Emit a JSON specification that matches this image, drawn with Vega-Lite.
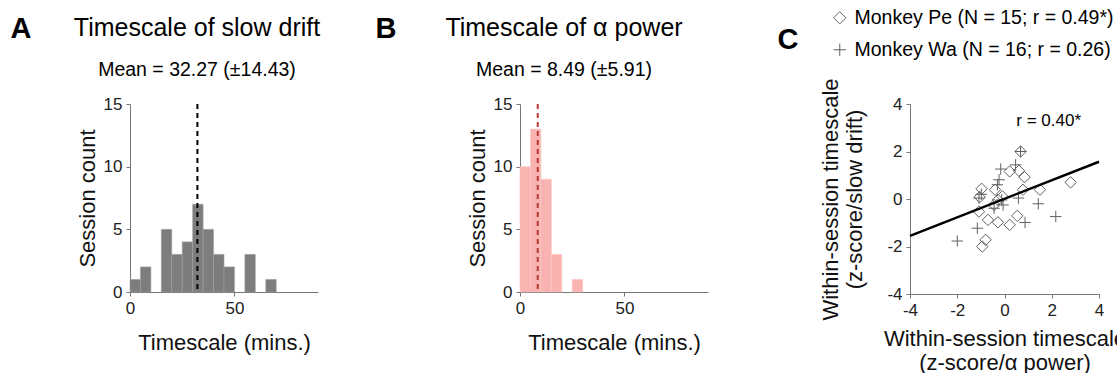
{
  "$schema": "https://vega.github.io/schema/vega-lite/v6.json",
  "padding": {"left": 10, "top": 8, "right": 0, "bottom": 0},
  "background": "white",
  "datasets": {
    "histA": [
      {"start": 0, "end": 5, "count": 1},
      {"start": 5, "end": 10, "count": 2},
      {"start": 15, "end": 20, "count": 5},
      {"start": 20, "end": 25, "count": 3},
      {"start": 25, "end": 30, "count": 4},
      {"start": 30, "end": 35, "count": 7},
      {"start": 35, "end": 40, "count": 5},
      {"start": 40, "end": 45, "count": 3},
      {"start": 45, "end": 50, "count": 2},
      {"start": 55, "end": 60, "count": 3},
      {"start": 65, "end": 70, "count": 1}
    ],
    "histB": [
      {"start": 0, "end": 5, "count": 10},
      {"start": 5, "end": 10, "count": 13},
      {"start": 10, "end": 15, "count": 9},
      {"start": 15, "end": 20, "count": 3},
      {"start": 25, "end": 30, "count": 1}
    ],
    "meanA": [{"mean": 32.27}],
    "meanB": [{"mean": 8.49}],
    "scatter": [
      {"monkey": "Pe", "x": 0.68, "y": 2.0},
      {"monkey": "Pe", "x": 0.22, "y": 1.16},
      {"monkey": "Pe", "x": 0.61, "y": 1.19},
      {"monkey": "Pe", "x": 0.85, "y": 0.92},
      {"monkey": "Pe", "x": 0.78, "y": 0.39},
      {"monkey": "Pe", "x": 1.5, "y": 0.39},
      {"monkey": "Pe", "x": 2.8, "y": 0.7},
      {"monkey": "Pe", "x": -0.97, "y": 0.43},
      {"monkey": "Pe", "x": -1.05, "y": 0.08},
      {"monkey": "Pe", "x": -1.08, "y": -0.53},
      {"monkey": "Pe", "x": -0.7, "y": -0.88},
      {"monkey": "Pe", "x": -0.4, "y": 0.39},
      {"monkey": "Pe", "x": -0.28, "y": -0.04},
      {"monkey": "Pe", "x": -0.09, "y": 0.11},
      {"monkey": "Pe", "x": -0.28, "y": -0.98},
      {"monkey": "Pe", "x": 0.22, "y": -1.09},
      {"monkey": "Pe", "x": 0.54, "y": -0.71},
      {"monkey": "Pe", "x": -0.8, "y": -1.72},
      {"monkey": "Pe", "x": -0.94, "y": -2.0},
      {"monkey": "Pe", "x": -0.44, "y": -0.25},
      {"monkey": "Wa", "x": 0.68, "y": 2.0},
      {"monkey": "Wa", "x": -0.16, "y": 1.26},
      {"monkey": "Wa", "x": 0.47, "y": 1.44},
      {"monkey": "Wa", "x": -0.23, "y": 0.81},
      {"monkey": "Wa", "x": -1.08, "y": 0.04},
      {"monkey": "Wa", "x": -1.15, "y": -1.23},
      {"monkey": "Wa", "x": -2.0, "y": -1.77},
      {"monkey": "Wa", "x": -0.06, "y": -0.25},
      {"monkey": "Wa", "x": 0.59, "y": 0.04},
      {"monkey": "Wa", "x": 1.43, "y": -0.2},
      {"monkey": "Wa", "x": 2.17, "y": -0.74},
      {"monkey": "Wa", "x": 0.87, "y": -0.99},
      {"monkey": "Wa", "x": -0.3, "y": 0.6},
      {"monkey": "Wa", "x": -0.44, "y": -0.39},
      {"monkey": "Wa", "x": -0.12, "y": -0.04},
      {"monkey": "Wa", "x": -0.98, "y": 0.2}
    ],
    "fit": [{"x": -4, "y": -1.55}, {"x": 4, "y": 1.57}]
  },
  "hconcat": [
    {
      "width": 188,
      "height": 188,
      "title": {"text": "Timescale of slow drift", "subtitle": "Mean = 32.27 (±14.43)", "frame": "group", "anchor": "middle", "dx": -27, "offset": -65},
      "layer": [
        {
          "data": {"name": "histA"},
          "mark": {"type": "rect", "color": "#7d7d7d", "stroke": "#a0a0a0", "strokeWidth": 0.6},
          "encoding": {
            "x": {"field": "start", "type": "quantitative", "scale": {"domain": [0, 90], "nice": false}, "axis": {"values": [0, 50], "title": "Timescale (mins.)", "titlePadding": 16}},
            "x2": {"field": "end"},
            "y": {"field": "count", "type": "quantitative", "scale": {"domain": [0, 15], "nice": false}, "axis": {"values": [0, 5, 10, 15], "title": "Session count"}}
          }
        },
        {
          "data": {"name": "meanA"},
          "mark": {"type": "rule", "color": "#000000", "strokeWidth": 2, "strokeDash": [5, 4]},
          "encoding": {
            "x": {"field": "mean", "type": "quantitative", "axis": {"orient": "top", "title": "A", "labels": false, "ticks": false, "domain": false, "titleAngle": 0, "titleAlign": "left", "titleBaseline": "alphabetic", "titleX": -120, "titleY": -67, "titleFontSize": 29, "titleFontWeight": "bold", "titleColor": "#000000"}}
          }
        }
      ],
      "resolve": {"axis": {"x": "independent"}}
    },
    {
      "width": 188,
      "height": 188,
      "title": {"text": "Timescale of α power", "subtitle": "Mean = 8.49 (±5.91)", "frame": "group", "anchor": "middle", "dx": -50, "offset": -65},
      "layer": [
        {
          "data": {"name": "histB"},
          "mark": {"type": "rect", "color": "#f9b3b0", "stroke": "#fbc8c5", "strokeWidth": 0.6},
          "encoding": {
            "x": {"field": "start", "type": "quantitative", "scale": {"domain": [0, 90], "nice": false}, "axis": {"values": [0, 50], "title": "Timescale (mins.)", "titlePadding": 16}},
            "x2": {"field": "end"},
            "y": {"field": "count", "type": "quantitative", "scale": {"domain": [0, 15], "nice": false}, "axis": {"values": [0, 5, 10, 15], "title": "Session count"}}
          }
        },
        {
          "data": {"name": "meanB"},
          "mark": {"type": "rule", "color": "#b83a36", "strokeWidth": 2, "strokeDash": [5, 4]},
          "encoding": {
            "x": {"field": "mean", "type": "quantitative", "axis": {"orient": "top", "title": "B", "labels": false, "ticks": false, "domain": false, "titleAngle": 0, "titleAlign": "left", "titleBaseline": "alphabetic", "titleX": -145, "titleY": -67, "titleFontSize": 29, "titleFontWeight": "bold", "titleColor": "#000000"}}
          }
        }
      ],
      "resolve": {"axis": {"x": "independent"}}
    },
    {
      "width": 189,
      "height": 190,
      "layer": [
        {
          "data": {"name": "scatter"},
          "mark": {"type": "point", "filled": false, "color": "#606060", "strokeWidth": 1, "size": 130, "opacity": 1},
          "encoding": {
            "x": {"field": "x", "type": "quantitative", "scale": {"domain": [-4, 4], "nice": false}, "axis": {"values": [-4, -2, 0, 2, 4], "title": ["Within-session timescale", "(z-score/α power)"], "titlePadding": 10, "labelExpr": "replace(datum.label, '−', '-')"}},
            "y": {"field": "y", "type": "quantitative", "scale": {"domain": [-4, 4], "nice": false}, "axis": {"values": [-4, -2, 0, 2, 4], "title": ["Within-session timescale", "(z-score/slow drift)"], "titlePadding": 20, "labelExpr": "replace(datum.label, '−', '-')"}},
            "shape": {"field": "monkey", "type": "nominal", "scale": {"domain": ["Pe", "Wa"], "range": ["diamond", "M-1,0H1M0,-1V1"]},
              "legend": {"orient": "none", "legendX": -80, "legendY": -96, "title": null, "labelFontSize": 19.5, "labelColor": "#000000", "symbolStrokeColor": "#606060", "symbolFillColor": "transparent", "symbolStrokeWidth": 1, "symbolSize": 150, "rowPadding": 11, "labelOffset": 5, "labelLimit": 400,
                "labelExpr": "datum.label == 'Pe' ? 'Monkey Pe (N = 15; r = 0.49*)' : 'Monkey Wa (N = 16; r = 0.26)'"}}
          }
        },
        {
          "data": {"name": "fit"},
          "mark": {"type": "line", "color": "#000000", "strokeWidth": 2.5},
          "encoding": {
            "x": {"field": "x", "type": "quantitative", "axis": {"orient": "top", "title": "C", "labels": false, "ticks": false, "domain": false, "titleAngle": 0, "titleAlign": "left", "titleBaseline": "alphabetic", "titleX": -133, "titleY": -56, "titleFontSize": 29, "titleFontWeight": "bold", "titleColor": "#000000"}},
            "y": {"field": "y", "type": "quantitative"}
          }
        },
        {
          "data": {"values": [{"label": "r = 0.40*"}]},
          "mark": {"type": "text", "fontSize": 17, "color": "#000000"},
          "encoding": {
            "x": {"datum": 1.87, "axis": null},
            "y": {"datum": 3.3},
            "text": {"field": "label"}
          }
        }
      ],
      "resolve": {"axis": {"x": "independent"}}
    }
  ],
  "spacing": 202,
  "bounds": "flush",
  "resolve": {"legend": {"shape": "independent"}},
  "config": {
    "font": "Liberation Sans",
    "view": {"stroke": null},
    "axis": {"grid": false, "labelFontSize": 17, "labelColor": "#222222", "titleFontSize": 22, "titleFontWeight": "normal", "titleColor": "#111111", "domainColor": "#777777", "tickColor": "#777777", "tickSize": 4, "labelPadding": 4, "labelFlush": false},
    "title": {"fontSize": 25, "fontWeight": "normal", "color": "#000000", "subtitleFontSize": 19.5, "subtitleColor": "#000000", "subtitlePadding": 20}
  }
}
